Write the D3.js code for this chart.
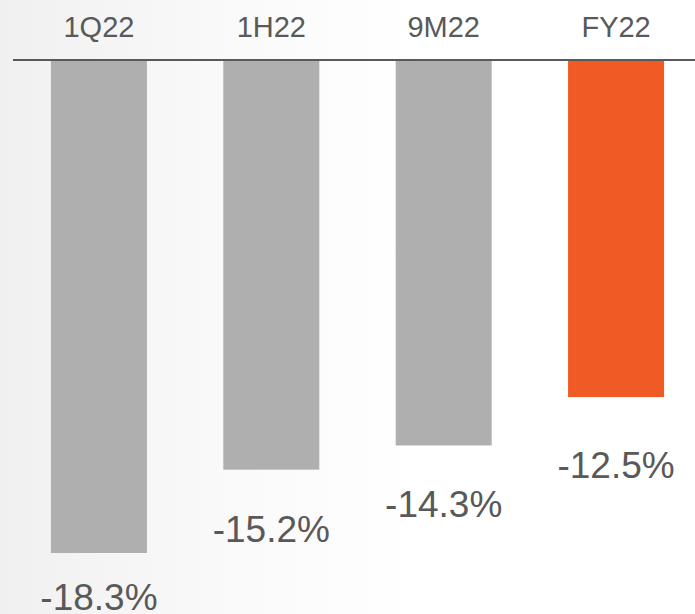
<!DOCTYPE html>
<html>
<head>
<meta charset="utf-8">
<script src="https://cdn.jsdelivr.net/npm/d3@7"></script>
<style>
  html, body { margin: 0; padding: 0; background: #fff; }
  svg { display: block; }
  text { font-family: Arial, "Liberation Sans", sans-serif; fill: #595959; }
</style>
</head>
<body>
<svg id="chart" width="695" height="614"></svg>
<script>
// Period labels and their year-to-date change (%)
const periods = ["1Q22", "1H22", "9M22", "FY22"];
const changes = [-18.3, -15.2, -14.3, -12.5];
const valueLabels = ["-18.3%", "-15.2%", "-14.3%", "-12.5%"];
const highlight = ["FY22"];

// Layout
const W = 695, H = 614;
const baseY = 60;
const labelGap = [57, 72, 72, 81]; // distance from bar end to value label baseline

const svg = d3.select("#chart");

// Soft background wash, grey on the left fading to white
const defs = svg.append("defs");
const grad = defs.append("linearGradient")
  .attr("id", "bg").attr("x1", "0").attr("x2", "1").attr("y1", "0").attr("y2", "0");
grad.append("stop").attr("offset", "0%").attr("stop-color", "#f0f0f0");
grad.append("stop").attr("offset", "30%").attr("stop-color", "#f9f9f9");
grad.append("stop").attr("offset", "60%").attr("stop-color", "#ffffff");
grad.append("stop").attr("offset", "100%").attr("stop-color", "#ffffff");
svg.append("rect").attr("width", W).attr("height", H).attr("fill", "url(#bg)");

const x = d3.scaleBand()
  .domain(periods)
  .range([13, 702])
  .paddingInner(0.443)
  .paddingOuter(0.22);

const y = d3.scaleLinear()
  .domain([0, -18.3])
  .range([baseY + 1, 553]);

const data = periods.map((p, i) => ({ p, v: changes[i], label: valueLabels[i], i }));

// Bars hanging from the zero line
svg.append("g").selectAll("rect")
  .data(data)
  .join("rect")
  .attr("x", d => x(d.p))
  .attr("width", x.bandwidth())
  .attr("y", y(0))
  .attr("height", d => y(d.v) - y(0))
  .attr("fill", d => highlight.includes(d.p) ? "#f05a24" : "#afafaf");

// Zero line with category labels above it
const axis = d3.axisTop(x).tickSize(0).tickPadding(23);
const ax = svg.append("g")
  .attr("transform", `translate(0,${baseY})`)
  .call(axis);
ax.select(".domain").attr("stroke", "#595959").attr("stroke-width", 2)
  .attr("d", `M13,0H${W}`);
ax.selectAll(".tick text")
  .attr("font-size", 29)
  .attr("font-family", "Arial, 'Liberation Sans', sans-serif")
  .attr("fill", "#595959");

// Value labels under each bar
svg.append("g").selectAll("text")
  .data(data)
  .join("text")
  .attr("x", d => x(d.p) + x.bandwidth() / 2)
  .attr("y", d => y(d.v) + labelGap[d.i])
  .attr("text-anchor", "middle")
  .attr("font-size", 37)
  .text(d => d.label);
</script>
</body>
</html>
